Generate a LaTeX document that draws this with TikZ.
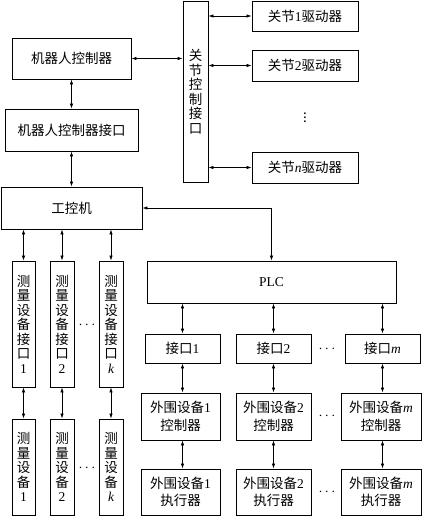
\documentclass[tikz,border=0pt]{standalone}
\usepackage{fontspec}
\setmainfont{Noto Sans CJK SC}
\newfontfamily\lat{Liberation Serif}
\usepackage{tikz}
\usetikzlibrary{arrows.meta, calc}
\newcommand{\tm}[1]{{\lat #1}}
\newcommand{\ti}[1]{{\lat\itshape #1}}
\tikzset{
  box/.style={draw, line width=0.9pt, inner sep=0pt, align=center,
              font=\fontsize{13.5}{14.5}\selectfont},
  arr/.style={{Latex[length=5pt,width=3.4pt]}-{Latex[length=5pt,width=3.4pt]}, line width=0.6pt},
  dots/.style={font=\fontsize{13.5}{14.5}\selectfont},
}

\begin{document}
\begin{tikzpicture}[x=1pt, y=-1pt]
\useasboundingbox (0,0) rectangle (425,516);
% joint side
\node[box, minimum width=25pt, minimum height=181pt] (jci) at (195.5,91.5) {关\\节\\控\\制\\接\\口};
\node[box, minimum width=106pt, minimum height=30pt] (jd1) at (305,16) {关节\tm{1}驱动器};
\node[box, minimum width=106pt, minimum height=31pt] (jd2) at (305,65.5) {关节\tm{2}驱动器};
\node[box, minimum width=106pt, minimum height=31pt] (jdn) at (305,167.5) {关节\ti{n}驱动器};
\node[dots] (jdots) at (305,115) {$\vdots$};
\draw[arr] (jci.east |- jd1.west) -- (jd1.west);
\draw[arr] (jci.east |- jd2.west) -- (jd2.west);
\draw[arr] (jci.east |- jdn.west) -- (jdn.west);
% robot controller
\node[box, minimum width=119pt, minimum height=41pt] (rc) at (71.5,58.5) {机器人控制器};
\node[box, minimum width=133pt, minimum height=42pt] (rci) at (71.5,130) {机器人控制器接口};
\node[box, minimum width=141pt, minimum height=42pt] (ipc) at (71.5,208) {工控机};
\draw[arr] (rc.east) -- (rc.east -| jci.west);
\draw[arr] (rc.south) -- (rci.north);
\draw[arr] (rci.south) -- (ipc.north);
% measurement devices
\node[box, minimum width=23pt, minimum height=126pt] (mi1) at (23.5,324) {测\\量\\设\\备\\接\\口\\\tm{1}};
\node[box, minimum width=24pt, minimum height=126pt] (mi2) at (62,324) {测\\量\\设\\备\\接\\口\\\tm{2}};
\node[box, minimum width=24pt, minimum height=126pt] (mik) at (111,324) {测\\量\\设\\备\\接\\口\\\ti{k}};
\node[dots] (midots) at (87,325) {$\cdots$};
\node[box, minimum width=23pt, minimum height=96pt] (md1) at (23.5,467) {测\\量\\设\\备\\\tm{1}};
\node[box, minimum width=24pt, minimum height=96pt] (md2) at (62,467) {测\\量\\设\\备\\\tm{2}};
\node[box, minimum width=24pt, minimum height=96pt] (mdk) at (111,467) {测\\量\\设\\备\\\ti{k}};
\node[dots] (mddots) at (87,468) {$\cdots$};
\draw[arr] (ipc.south -| mi1.north) -- (mi1.north);
\draw[arr] (ipc.south -| mi2.north) -- (mi2.north);
\draw[arr] (ipc.south -| mik.north) -- (mik.north);
\draw[arr] (mi1.south) -- (md1.north);
\draw[arr] (mi2.south) -- (md2.north);
\draw[arr] (mik.south) -- (mdk.north);
% PLC side
\node[box, minimum width=249pt, minimum height=42pt] (plc) at (271.5,282) {\tm{PLC}};
\draw[arr] (ipc.east) -- (plc.north |- ipc.east) -- (plc.north);
\node[box, minimum width=75pt, minimum height=29pt] (if1) at (182.5,348.5) {接口\tm{1}};
\node[box, minimum width=75pt, minimum height=29pt] (if2) at (273.5,348.5) {接口\tm{2}};
\node[box, minimum width=75pt, minimum height=29pt] (ifm) at (382.5,348.5) {接口\ti{m}};
\node[dots] (ifdots) at (327,349) {$\cdots$};
\node[box, minimum width=79pt, minimum height=47pt] (ctl1) at (180.5,416.5) {外围设备\tm{1}\\[3pt]控制器};
\node[box, minimum width=75pt, minimum height=47pt] (ctl2) at (273.5,416.5) {外围设备\tm{2}\\[3pt]控制器};
\node[box, minimum width=80pt, minimum height=47pt] (ctlm) at (381,416.5) {外围设备\ti{m}\\[3pt]控制器};
\node[dots] (ctldots) at (327,416) {$\cdots$};
\node[box, minimum width=79pt, minimum height=46pt] (ex1) at (180.5,492) {外围设备\tm{1}\\[3pt]执行器};
\node[box, minimum width=75pt, minimum height=46pt] (ex2) at (273.5,492) {外围设备\tm{2}\\[3pt]执行器};
\node[box, minimum width=80pt, minimum height=46pt] (exm) at (381,492) {外围设备\ti{m}\\[3pt]执行器};
\node[dots] (exdots) at (327,492) {$\cdots$};
\draw[arr] (plc.south -| if1.north) -- (if1.north);
\draw[arr] (plc.south -| if2.north) -- (if2.north);
\draw[arr] (plc.south -| ifm.north) -- (ifm.north);
\draw[arr] (if1.south) -- (if1.south |- ctl1.north);
\draw[arr] (if2.south) -- (if2.south |- ctl2.north);
\draw[arr] (ifm.south) -- (ifm.south |- ctlm.north);
\draw[arr] (if1.south |- ctl1.south) -- (if1.south |- ex1.north);
\draw[arr] (if2.south |- ctl2.south) -- (if2.south |- ex2.north);
\draw[arr] (ifm.south |- ctlm.south) -- (ifm.south |- exm.north);
\end{tikzpicture}
\end{document}
